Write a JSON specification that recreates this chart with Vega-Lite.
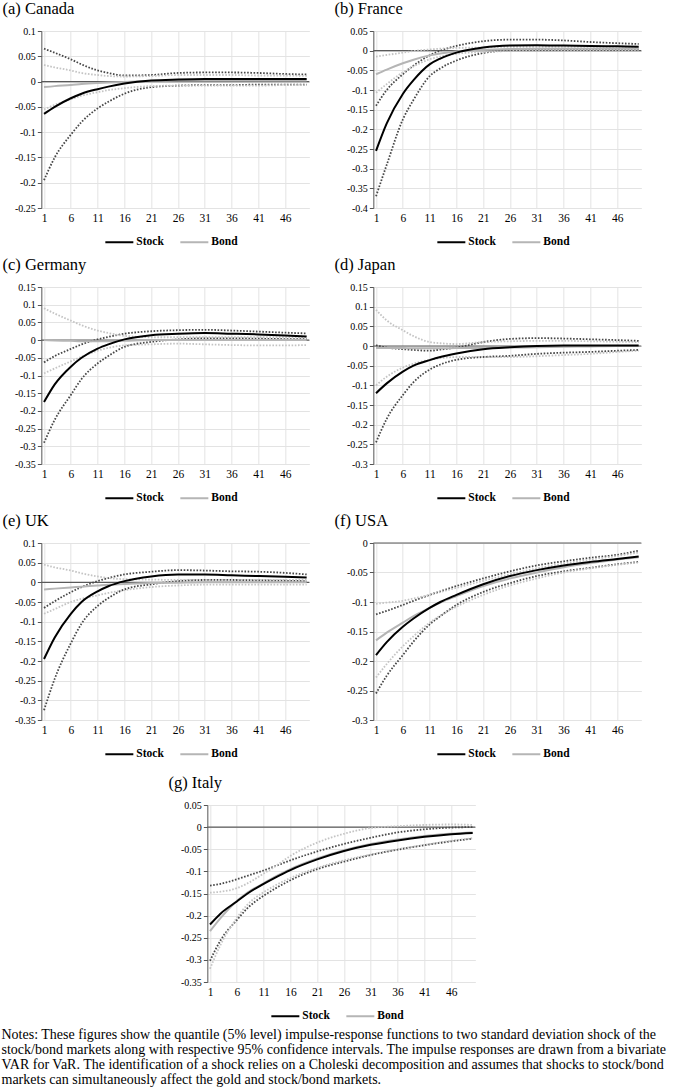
{
  "$schema": "https://vega.github.io/schema/vega-lite/v6.json",
  "padding": {"left": 1, "top": 0, "right": 0, "bottom": 0},
  "background": "white",
  "config": {
    "font": "Liberation Serif",
    "view": {"stroke": null},
    "axis": {"labelFont": "Liberation Serif", "labelColor": "#000000", "gridColor": "#e3e3e3", "gridWidth": 1, "title": null, "labelOverlap": false},
    "axisX": {"domain": false, "ticks": false, "labelFontSize": 11.5, "labelPadding": 4, "grid": true},
    "axisY": {"domainColor": "#555555", "tickColor": "#555555", "tickSize": 4, "labelFontSize": 10, "labelPadding": 2, "grid": true},
    "title": {"font": "Liberation Serif", "fontSize": 16.5, "fontWeight": "normal", "color": "#000000", "anchor": "start", "frame": "bounds", "offset": 9, "dx": -12},
    "legend": {"orient": "none", "legendX": 63, "legendY": 196, "direction": "horizontal", "title": null, "symbolType": "stroke", "symbolSize": 784, "symbolStrokeWidth": 2, "labelFont": "Liberation Serif", "labelFontSize": 11.5, "labelFontWeight": "bold", "labelColor": "#000000", "labelOffset": 2, "columnPadding": 12, "padding": 0}
  },
  "datasets": {
    "irf": [
      {"p":"a","t":1,"Stock":-0.064,"StockLo":-0.195,"StockHi":0.065,"Bond":-0.011,"BondLo":-0.055,"BondHi":0.033},
      {"p":"a","t":3,"Stock":-0.050,"StockLo":-0.150,"StockHi":0.057,"Bond":-0.009,"BondLo":-0.046,"BondHi":0.028},
      {"p":"a","t":6,"Stock":-0.033,"StockLo":-0.105,"StockHi":0.044,"Bond":-0.007,"BondLo":-0.035,"BondHi":0.022},
      {"p":"a","t":8,"Stock":-0.024,"StockLo":-0.080,"StockHi":0.034,"Bond":-0.005,"BondLo":-0.028,"BondHi":0.017},
      {"p":"a","t":11,"Stock":-0.015,"StockLo":-0.053,"StockHi":0.022,"Bond":-0.003,"BondLo":-0.021,"BondHi":0.013},
      {"p":"a","t":13,"Stock":-0.010,"StockLo":-0.040,"StockHi":0.017,"Bond":-0.002,"BondLo":-0.017,"BondHi":0.011},
      {"p":"a","t":16,"Stock":-0.004,"StockLo":-0.024,"StockHi":0.012,"Bond":-0.001,"BondLo":-0.013,"BondHi":0.010},
      {"p":"a","t":21,"Stock":0.002,"StockLo":-0.011,"StockHi":0.013,"Bond":0.001,"BondLo":-0.009,"BondHi":0.011},
      {"p":"a","t":26,"Stock":0.004,"StockLo":-0.008,"StockHi":0.017,"Bond":0.002,"BondLo":-0.008,"BondHi":0.013},
      {"p":"a","t":31,"Stock":0.005,"StockLo":-0.007,"StockHi":0.018,"Bond":0.002,"BondLo":-0.008,"BondHi":0.013},
      {"p":"a","t":36,"Stock":0.005,"StockLo":-0.007,"StockHi":0.018,"Bond":0.002,"BondLo":-0.008,"BondHi":0.013},
      {"p":"a","t":41,"Stock":0.005,"StockLo":-0.006,"StockHi":0.017,"Bond":0.002,"BondLo":-0.008,"BondHi":0.012},
      {"p":"a","t":46,"Stock":0.005,"StockLo":-0.006,"StockHi":0.015,"Bond":0.002,"BondLo":-0.007,"BondHi":0.012},
      {"p":"a","t":50,"Stock":0.005,"StockLo":-0.006,"StockHi":0.014,"Bond":0.002,"BondLo":-0.007,"BondHi":0.011},

      {"p":"b","t":1,"Stock":-0.255,"StockLo":-0.370,"StockHi":-0.140,"Bond":-0.060,"BondLo":-0.107,"BondHi":-0.015},
      {"p":"b","t":3,"Stock":-0.185,"StockLo":-0.290,"StockHi":-0.100,"Bond":-0.048,"BondLo":-0.085,"BondHi":-0.011},
      {"p":"b","t":6,"Stock":-0.110,"StockLo":-0.175,"StockHi":-0.060,"Bond":-0.032,"BondLo":-0.055,"BondHi":-0.005},
      {"p":"b","t":8,"Stock":-0.075,"StockLo":-0.125,"StockHi":-0.038,"Bond":-0.023,"BondLo":-0.040,"BondHi":-0.001},
      {"p":"b","t":11,"Stock":-0.035,"StockLo":-0.065,"StockHi":-0.012,"Bond":-0.012,"BondLo":-0.022,"BondHi":0.003},
      {"p":"b","t":13,"Stock":-0.020,"StockLo":-0.045,"StockHi":0.000,"Bond":-0.007,"BondLo":-0.015,"BondHi":0.005},
      {"p":"b","t":16,"Stock":-0.005,"StockLo":-0.025,"StockHi":0.012,"Bond":-0.002,"BondLo":-0.008,"BondHi":0.007},
      {"p":"b","t":21,"Stock":0.008,"StockLo":-0.006,"StockHi":0.024,"Bond":0.002,"BondLo":-0.003,"BondHi":0.008},
      {"p":"b","t":26,"Stock":0.013,"StockLo":0.001,"StockHi":0.028,"Bond":0.004,"BondLo":-0.001,"BondHi":0.010},
      {"p":"b","t":31,"Stock":0.014,"StockLo":0.003,"StockHi":0.028,"Bond":0.005,"BondLo":0.000,"BondHi":0.010},
      {"p":"b","t":36,"Stock":0.013,"StockLo":0.003,"StockHi":0.026,"Bond":0.005,"BondLo":0.000,"BondHi":0.010},
      {"p":"b","t":41,"Stock":0.012,"StockLo":0.003,"StockHi":0.022,"Bond":0.005,"BondLo":0.000,"BondHi":0.010},
      {"p":"b","t":46,"Stock":0.011,"StockLo":0.003,"StockHi":0.019,"Bond":0.005,"BondLo":0.000,"BondHi":0.010},
      {"p":"b","t":50,"Stock":0.010,"StockLo":0.003,"StockHi":0.017,"Bond":0.005,"BondLo":0.000,"BondHi":0.010},

      {"p":"c","t":1,"Stock":-0.175,"StockLo":-0.290,"StockHi":-0.063,"Bond":0.000,"BondLo":-0.094,"BondHi":0.090},
      {"p":"c","t":3,"Stock":-0.125,"StockLo":-0.225,"StockHi":-0.045,"Bond":-0.001,"BondLo":-0.080,"BondHi":0.075},
      {"p":"c","t":6,"Stock":-0.075,"StockLo":-0.155,"StockHi":-0.025,"Bond":-0.002,"BondLo":-0.060,"BondHi":0.055},
      {"p":"c","t":8,"Stock":-0.050,"StockLo":-0.110,"StockHi":-0.012,"Bond":-0.003,"BondLo":-0.047,"BondHi":0.042},
      {"p":"c","t":11,"Stock":-0.024,"StockLo":-0.066,"StockHi":0.002,"Bond":-0.003,"BondLo":-0.030,"BondHi":0.027},
      {"p":"c","t":13,"Stock":-0.012,"StockLo":-0.045,"StockHi":0.009,"Bond":-0.003,"BondLo":-0.022,"BondHi":0.020},
      {"p":"c","t":16,"Stock":0.002,"StockLo":-0.019,"StockHi":0.018,"Bond":-0.002,"BondLo":-0.015,"BondHi":0.012},
      {"p":"c","t":21,"Stock":0.014,"StockLo":-0.005,"StockHi":0.025,"Bond":0.000,"BondLo":-0.012,"BondHi":0.008},
      {"p":"c","t":26,"Stock":0.018,"StockLo":0.002,"StockHi":0.028,"Bond":0.000,"BondLo":-0.010,"BondHi":0.008},
      {"p":"c","t":31,"Stock":0.020,"StockLo":0.005,"StockHi":0.029,"Bond":0.000,"BondLo":-0.012,"BondHi":0.008},
      {"p":"c","t":36,"Stock":0.018,"StockLo":0.005,"StockHi":0.027,"Bond":0.000,"BondLo":-0.014,"BondHi":0.008},
      {"p":"c","t":41,"Stock":0.016,"StockLo":0.004,"StockHi":0.024,"Bond":0.000,"BondLo":-0.015,"BondHi":0.008},
      {"p":"c","t":46,"Stock":0.013,"StockLo":0.003,"StockHi":0.021,"Bond":0.000,"BondLo":-0.015,"BondHi":0.008},
      {"p":"c","t":50,"Stock":0.010,"StockLo":0.003,"StockHi":0.019,"Bond":0.000,"BondLo":-0.014,"BondHi":0.008},

      {"p":"d","t":1,"Stock":-0.120,"StockLo":-0.245,"StockHi":0.002,"Bond":-0.005,"BondLo":-0.100,"BondHi":0.092},
      {"p":"d","t":3,"Stock":-0.095,"StockLo":-0.185,"StockHi":-0.004,"Bond":-0.005,"BondLo":-0.078,"BondHi":0.065},
      {"p":"d","t":6,"Stock":-0.065,"StockLo":-0.125,"StockHi":-0.008,"Bond":-0.005,"BondLo":-0.055,"BondHi":0.040},
      {"p":"d","t":8,"Stock":-0.050,"StockLo":-0.092,"StockHi":-0.010,"Bond":-0.006,"BondLo":-0.045,"BondHi":0.025},
      {"p":"d","t":11,"Stock":-0.036,"StockLo":-0.060,"StockHi":-0.012,"Bond":-0.006,"BondLo":-0.035,"BondHi":0.010},
      {"p":"d","t":13,"Stock":-0.028,"StockLo":-0.047,"StockHi":-0.009,"Bond":-0.006,"BondLo":-0.031,"BondHi":0.007},
      {"p":"d","t":16,"Stock":-0.019,"StockLo":-0.035,"StockHi":-0.004,"Bond":-0.005,"BondLo":-0.028,"BondHi":0.005},
      {"p":"d","t":21,"Stock":-0.008,"StockLo":-0.028,"StockHi":0.010,"Bond":-0.005,"BondLo":-0.028,"BondHi":0.010},
      {"p":"d","t":26,"Stock":-0.003,"StockLo":-0.025,"StockHi":0.018,"Bond":-0.004,"BondLo":-0.028,"BondHi":0.012},
      {"p":"d","t":31,"Stock":0.000,"StockLo":-0.020,"StockHi":0.020,"Bond":-0.003,"BondLo":-0.026,"BondHi":0.013},
      {"p":"d","t":36,"Stock":0.001,"StockLo":-0.017,"StockHi":0.019,"Bond":-0.002,"BondLo":-0.023,"BondHi":0.013},
      {"p":"d","t":41,"Stock":0.001,"StockLo":-0.015,"StockHi":0.017,"Bond":-0.001,"BondLo":-0.020,"BondHi":0.012},
      {"p":"d","t":46,"Stock":0.001,"StockLo":-0.012,"StockHi":0.015,"Bond":0.000,"BondLo":-0.015,"BondHi":0.011},
      {"p":"d","t":50,"Stock":0.001,"StockLo":-0.010,"StockHi":0.013,"Bond":0.000,"BondLo":-0.012,"BondHi":0.010},

      {"p":"e","t":1,"Stock":-0.195,"StockLo":-0.325,"StockHi":-0.065,"Bond":-0.018,"BondLo":-0.080,"BondHi":0.045},
      {"p":"e","t":3,"Stock":-0.140,"StockLo":-0.245,"StockHi":-0.048,"Bond":-0.016,"BondLo":-0.068,"BondHi":0.038},
      {"p":"e","t":6,"Stock":-0.080,"StockLo":-0.155,"StockHi":-0.025,"Bond":-0.013,"BondLo":-0.050,"BondHi":0.030},
      {"p":"e","t":8,"Stock":-0.050,"StockLo":-0.105,"StockHi":-0.012,"Bond":-0.011,"BondLo":-0.042,"BondHi":0.023},
      {"p":"e","t":11,"Stock":-0.023,"StockLo":-0.060,"StockHi":0.003,"Bond":-0.008,"BondLo":-0.033,"BondHi":0.015},
      {"p":"e","t":13,"Stock":-0.010,"StockLo":-0.040,"StockHi":0.011,"Bond":-0.006,"BondLo":-0.027,"BondHi":0.011},
      {"p":"e","t":16,"Stock":0.003,"StockLo":-0.018,"StockHi":0.020,"Bond":-0.004,"BondLo":-0.020,"BondHi":0.008},
      {"p":"e","t":21,"Stock":0.015,"StockLo":-0.005,"StockHi":0.027,"Bond":-0.002,"BondLo":-0.012,"BondHi":0.007},
      {"p":"e","t":26,"Stock":0.020,"StockLo":0.003,"StockHi":0.031,"Bond":-0.001,"BondLo":-0.008,"BondHi":0.006},
      {"p":"e","t":31,"Stock":0.020,"StockLo":0.006,"StockHi":0.030,"Bond":0.000,"BondLo":-0.006,"BondHi":0.006},
      {"p":"e","t":36,"Stock":0.018,"StockLo":0.006,"StockHi":0.028,"Bond":0.000,"BondLo":-0.006,"BondHi":0.006},
      {"p":"e","t":41,"Stock":0.016,"StockLo":0.005,"StockHi":0.027,"Bond":0.000,"BondLo":-0.006,"BondHi":0.006},
      {"p":"e","t":46,"Stock":0.014,"StockLo":0.004,"StockHi":0.024,"Bond":0.000,"BondLo":-0.006,"BondHi":0.006},
      {"p":"e","t":50,"Stock":0.012,"StockLo":0.003,"StockHi":0.020,"Bond":0.000,"BondLo":-0.006,"BondHi":0.006},

      {"p":"f","t":1,"Stock":-0.190,"StockLo":-0.255,"StockHi":-0.121,"Bond":-0.165,"BondLo":-0.228,"BondHi":-0.103},
      {"p":"f","t":3,"Stock":-0.168,"StockLo":-0.225,"StockHi":-0.115,"Bond":-0.152,"BondLo":-0.205,"BondHi":-0.101},
      {"p":"f","t":6,"Stock":-0.142,"StockLo":-0.190,"StockHi":-0.105,"Bond":-0.135,"BondLo":-0.175,"BondHi":-0.098},
      {"p":"f","t":8,"Stock":-0.128,"StockLo":-0.167,"StockHi":-0.098,"Bond":-0.124,"BondLo":-0.158,"BondHi":-0.094},
      {"p":"f","t":11,"Stock":-0.110,"StockLo":-0.138,"StockHi":-0.088,"Bond":-0.110,"BondLo":-0.135,"BondHi":-0.088},
      {"p":"f","t":13,"Stock":-0.100,"StockLo":-0.124,"StockHi":-0.082,"Bond":-0.101,"BondLo":-0.123,"BondHi":-0.083},
      {"p":"f","t":16,"Stock":-0.088,"StockLo":-0.105,"StockHi":-0.073,"Bond":-0.090,"BondLo":-0.108,"BondHi":-0.076},
      {"p":"f","t":21,"Stock":-0.070,"StockLo":-0.083,"StockHi":-0.060,"Bond":-0.073,"BondLo":-0.088,"BondHi":-0.064},
      {"p":"f","t":26,"Stock":-0.056,"StockLo":-0.068,"StockHi":-0.048,"Bond":-0.060,"BondLo":-0.072,"BondHi":-0.053},
      {"p":"f","t":31,"Stock":-0.046,"StockLo":-0.056,"StockHi":-0.038,"Bond":-0.050,"BondLo":-0.060,"BondHi":-0.043},
      {"p":"f","t":36,"Stock":-0.038,"StockLo":-0.048,"StockHi":-0.031,"Bond":-0.041,"BondLo":-0.050,"BondHi":-0.035},
      {"p":"f","t":41,"Stock":-0.032,"StockLo":-0.042,"StockHi":-0.025,"Bond":-0.034,"BondLo":-0.043,"BondHi":-0.028},
      {"p":"f","t":46,"Stock":-0.027,"StockLo":-0.036,"StockHi":-0.020,"Bond":-0.028,"BondLo":-0.037,"BondHi":-0.022},
      {"p":"f","t":50,"Stock":-0.023,"StockLo":-0.032,"StockHi":-0.013,"Bond":-0.024,"BondLo":-0.033,"BondHi":-0.016},

      {"p":"g","t":1,"Stock":-0.220,"StockLo":-0.302,"StockHi":-0.132,"Bond":-0.235,"BondLo":-0.320,"BondHi":-0.148},
      {"p":"g","t":3,"Stock":-0.195,"StockLo":-0.255,"StockHi":-0.128,"Bond":-0.205,"BondLo":-0.265,"BondHi":-0.146},
      {"p":"g","t":6,"Stock":-0.168,"StockLo":-0.210,"StockHi":-0.118,"Bond":-0.167,"BondLo":-0.205,"BondHi":-0.138},
      {"p":"g","t":8,"Stock":-0.150,"StockLo":-0.183,"StockHi":-0.110,"Bond":-0.148,"BondLo":-0.175,"BondHi":-0.127},
      {"p":"g","t":11,"Stock":-0.128,"StockLo":-0.155,"StockHi":-0.098,"Bond":-0.127,"BondLo":-0.147,"BondHi":-0.105},
      {"p":"g","t":13,"Stock":-0.115,"StockLo":-0.140,"StockHi":-0.089,"Bond":-0.113,"BondLo":-0.133,"BondHi":-0.090},
      {"p":"g","t":16,"Stock":-0.097,"StockLo":-0.120,"StockHi":-0.075,"Bond":-0.095,"BondLo":-0.115,"BondHi":-0.065},
      {"p":"g","t":21,"Stock":-0.073,"StockLo":-0.095,"StockHi":-0.055,"Bond":-0.071,"BondLo":-0.092,"BondHi":-0.035},
      {"p":"g","t":26,"Stock":-0.054,"StockLo":-0.078,"StockHi":-0.038,"Bond":-0.052,"BondLo":-0.075,"BondHi":-0.015},
      {"p":"g","t":31,"Stock":-0.040,"StockLo":-0.063,"StockHi":-0.024,"Bond":-0.038,"BondLo":-0.062,"BondHi":-0.002},
      {"p":"g","t":36,"Stock":-0.030,"StockLo":-0.051,"StockHi":-0.012,"Bond":-0.028,"BondLo":-0.050,"BondHi":0.002},
      {"p":"g","t":41,"Stock":-0.022,"StockLo":-0.041,"StockHi":-0.005,"Bond":-0.020,"BondLo":-0.040,"BondHi":0.005},
      {"p":"g","t":46,"Stock":-0.016,"StockLo":-0.032,"StockHi":-0.001,"Bond":-0.015,"BondLo":-0.031,"BondHi":0.006},
      {"p":"g","t":50,"Stock":-0.013,"StockLo":-0.026,"StockHi":0.000,"Bond":-0.012,"BondLo":-0.025,"BondHi":0.005}
    ]
  },
  "title": {
    "text": [
      "Notes: These figures show the quantile (5% level) impulse-response functions to two standard deviation shock of the",
      "stock/bond markets along with respective 95% confidence intervals. The impulse responses are drawn from a bivariate",
      "VAR for VaR. The identification of a shock relies on a Choleski decomposition and assumes that shocks to stock/bond",
      "markets can simultaneously affect the gold and stock/bond markets."
    ],
    "orient": "bottom", "anchor": "start", "frame": "bounds", "fontSize": 14, "lineHeight": 15, "offset": 6, "dx": -1
  },
  "center": true,
  "spacing": 14,
  "resolve": {"scale": {"color": "independent"}},
  "vconcat": [
    {
      "spacing": 8,
      "resolve": {"scale": {"color": "independent"}},
      "vconcat": [
        {
          "spacing": 23,
          "resolve": {"scale": {"color": "independent"}},
          "hconcat": [
            {
              "width": 268, "height": 177, "title": {"text": "(a) Canada"},
              "layer": [
                {"data": {"values": [{}]}, "mark": {"type": "rule", "color": "#5a5a5a", "strokeWidth": 1.2}, "encoding": {"y": {"datum": 0, "type": "quantitative", "scale": {"domain": [-0.25, 0.1], "nice": false, "zero": false}, "axis": {"values": [-0.25,-0.2,-0.15,-0.1,-0.05,0,0.05,0.1], "labelExpr": "'' + datum.value", "title": null, "labelOverlap": false}}}},
                {"data": {"name": "irf"}, "transform": [{"filter": "datum.p == 'a'"}],
                 "encoding": {
                   "x": {"field": "t", "type": "quantitative", "scale": {"domain": [0.5, 50.5], "nice": false, "zero": false}, "axis": {"values": [1,6,11,16,21,26,31,36,41,46], "title": null, "labelOverlap": false}},
                   "y": {"field": "value", "type": "quantitative", "scale": {"domain": [-0.25, 0.1], "nice": false, "zero": false}, "axis": {"values": [-0.25,-0.2,-0.15,-0.1,-0.05,0,0.05,0.1], "labelExpr": "'' + datum.value", "title": null, "labelOverlap": false}}},
                 "layer": [
                   {"transform": [{"fold": ["StockLo","StockHi"]}], "mark": {"type": "line", "color": "#474747", "strokeDash": [1.6,1.6], "strokeWidth": 1.8, "interpolate": "monotone"}, "encoding": {"detail": {"field": "key"}}},
                   {"transform": [{"fold": ["BondLo","BondHi"]}], "mark": {"type": "line", "color": "#c4c4c4", "strokeDash": [1.6,1.6], "strokeWidth": 1.8, "interpolate": "monotone"}, "encoding": {"detail": {"field": "key"}}},
                   {"transform": [{"fold": ["Bond","Stock"]}], "mark": {"type": "line", "strokeWidth": 2, "interpolate": "monotone"}, "encoding": {"color": {"field": "key", "type": "nominal", "scale": {"domain": ["Stock","Bond"], "range": ["#000000","#b5b5b5"]}}}}
                 ]}
              ]
            },
            {
              "width": 268, "height": 177, "title": {"text": "(b) France"},
              "layer": [
                {"data": {"values": [{}]}, "mark": {"type": "rule", "color": "#5a5a5a", "strokeWidth": 1.2}, "encoding": {"y": {"datum": 0, "type": "quantitative", "scale": {"domain": [-0.4, 0.05], "nice": false, "zero": false}, "axis": {"values": [-0.4,-0.35,-0.3,-0.25,-0.2,-0.15,-0.1,-0.05,0,0.05], "labelExpr": "'' + datum.value", "title": null, "labelOverlap": false}}}},
                {"data": {"name": "irf"}, "transform": [{"filter": "datum.p == 'b'"}],
                 "encoding": {
                   "x": {"field": "t", "type": "quantitative", "scale": {"domain": [0.5, 50.5], "nice": false, "zero": false}, "axis": {"values": [1,6,11,16,21,26,31,36,41,46], "title": null, "labelOverlap": false}},
                   "y": {"field": "value", "type": "quantitative", "scale": {"domain": [-0.4, 0.05], "nice": false, "zero": false}, "axis": {"values": [-0.4,-0.35,-0.3,-0.25,-0.2,-0.15,-0.1,-0.05,0,0.05], "labelExpr": "'' + datum.value", "title": null, "labelOverlap": false}}},
                 "layer": [
                   {"transform": [{"fold": ["StockLo","StockHi"]}], "mark": {"type": "line", "color": "#474747", "strokeDash": [1.6,1.6], "strokeWidth": 1.8, "interpolate": "monotone"}, "encoding": {"detail": {"field": "key"}}},
                   {"transform": [{"fold": ["BondLo","BondHi"]}], "mark": {"type": "line", "color": "#c4c4c4", "strokeDash": [1.6,1.6], "strokeWidth": 1.8, "interpolate": "monotone"}, "encoding": {"detail": {"field": "key"}}},
                   {"transform": [{"fold": ["Bond","Stock"]}], "mark": {"type": "line", "strokeWidth": 2, "interpolate": "monotone"}, "encoding": {"color": {"field": "key", "type": "nominal", "scale": {"domain": ["Stock","Bond"], "range": ["#000000","#b5b5b5"]}}}}
                 ]}
              ]
            }
          ]
        },
        {
          "spacing": 23,
          "resolve": {"scale": {"color": "independent"}},
          "hconcat": [
            {
              "width": 268, "height": 177, "title": {"text": "(c) Germany"},
              "layer": [
                {"data": {"values": [{}]}, "mark": {"type": "rule", "color": "#5a5a5a", "strokeWidth": 1.2}, "encoding": {"y": {"datum": 0, "type": "quantitative", "scale": {"domain": [-0.35, 0.15], "nice": false, "zero": false}, "axis": {"values": [-0.35,-0.3,-0.25,-0.2,-0.15,-0.1,-0.05,0,0.05,0.1,0.15], "labelExpr": "'' + datum.value", "title": null, "labelOverlap": false}}}},
                {"data": {"name": "irf"}, "transform": [{"filter": "datum.p == 'c'"}],
                 "encoding": {
                   "x": {"field": "t", "type": "quantitative", "scale": {"domain": [0.5, 50.5], "nice": false, "zero": false}, "axis": {"values": [1,6,11,16,21,26,31,36,41,46], "title": null, "labelOverlap": false}},
                   "y": {"field": "value", "type": "quantitative", "scale": {"domain": [-0.35, 0.15], "nice": false, "zero": false}, "axis": {"values": [-0.35,-0.3,-0.25,-0.2,-0.15,-0.1,-0.05,0,0.05,0.1,0.15], "labelExpr": "'' + datum.value", "title": null, "labelOverlap": false}}},
                 "layer": [
                   {"transform": [{"fold": ["StockLo","StockHi"]}], "mark": {"type": "line", "color": "#474747", "strokeDash": [1.6,1.6], "strokeWidth": 1.8, "interpolate": "monotone"}, "encoding": {"detail": {"field": "key"}}},
                   {"transform": [{"fold": ["BondLo","BondHi"]}], "mark": {"type": "line", "color": "#c4c4c4", "strokeDash": [1.6,1.6], "strokeWidth": 1.8, "interpolate": "monotone"}, "encoding": {"detail": {"field": "key"}}},
                   {"transform": [{"fold": ["Bond","Stock"]}], "mark": {"type": "line", "strokeWidth": 2, "interpolate": "monotone"}, "encoding": {"color": {"field": "key", "type": "nominal", "scale": {"domain": ["Stock","Bond"], "range": ["#000000","#b5b5b5"]}}}}
                 ]}
              ]
            },
            {
              "width": 268, "height": 177, "title": {"text": "(d) Japan"},
              "layer": [
                {"data": {"values": [{}]}, "mark": {"type": "rule", "color": "#5a5a5a", "strokeWidth": 1.2}, "encoding": {"y": {"datum": 0, "type": "quantitative", "scale": {"domain": [-0.3, 0.15], "nice": false, "zero": false}, "axis": {"values": [-0.3,-0.25,-0.2,-0.15,-0.1,-0.05,0,0.05,0.1,0.15], "labelExpr": "'' + datum.value", "title": null, "labelOverlap": false}}}},
                {"data": {"name": "irf"}, "transform": [{"filter": "datum.p == 'd'"}],
                 "encoding": {
                   "x": {"field": "t", "type": "quantitative", "scale": {"domain": [0.5, 50.5], "nice": false, "zero": false}, "axis": {"values": [1,6,11,16,21,26,31,36,41,46], "title": null, "labelOverlap": false}},
                   "y": {"field": "value", "type": "quantitative", "scale": {"domain": [-0.3, 0.15], "nice": false, "zero": false}, "axis": {"values": [-0.3,-0.25,-0.2,-0.15,-0.1,-0.05,0,0.05,0.1,0.15], "labelExpr": "'' + datum.value", "title": null, "labelOverlap": false}}},
                 "layer": [
                   {"transform": [{"fold": ["StockLo","StockHi"]}], "mark": {"type": "line", "color": "#474747", "strokeDash": [1.6,1.6], "strokeWidth": 1.8, "interpolate": "monotone"}, "encoding": {"detail": {"field": "key"}}},
                   {"transform": [{"fold": ["BondLo","BondHi"]}], "mark": {"type": "line", "color": "#c4c4c4", "strokeDash": [1.6,1.6], "strokeWidth": 1.8, "interpolate": "monotone"}, "encoding": {"detail": {"field": "key"}}},
                   {"transform": [{"fold": ["Bond","Stock"]}], "mark": {"type": "line", "strokeWidth": 2, "interpolate": "monotone"}, "encoding": {"color": {"field": "key", "type": "nominal", "scale": {"domain": ["Stock","Bond"], "range": ["#000000","#b5b5b5"]}}}}
                 ]}
              ]
            }
          ]
        },
        {
          "spacing": 23,
          "resolve": {"scale": {"color": "independent"}},
          "hconcat": [
            {
              "width": 268, "height": 177, "title": {"text": "(e) UK"},
              "layer": [
                {"data": {"values": [{}]}, "mark": {"type": "rule", "color": "#5a5a5a", "strokeWidth": 1.2}, "encoding": {"y": {"datum": 0, "type": "quantitative", "scale": {"domain": [-0.35, 0.1], "nice": false, "zero": false}, "axis": {"values": [-0.35,-0.3,-0.25,-0.2,-0.15,-0.1,-0.05,0,0.05,0.1], "labelExpr": "'' + datum.value", "title": null, "labelOverlap": false}}}},
                {"data": {"name": "irf"}, "transform": [{"filter": "datum.p == 'e'"}],
                 "encoding": {
                   "x": {"field": "t", "type": "quantitative", "scale": {"domain": [0.5, 50.5], "nice": false, "zero": false}, "axis": {"values": [1,6,11,16,21,26,31,36,41,46], "title": null, "labelOverlap": false}},
                   "y": {"field": "value", "type": "quantitative", "scale": {"domain": [-0.35, 0.1], "nice": false, "zero": false}, "axis": {"values": [-0.35,-0.3,-0.25,-0.2,-0.15,-0.1,-0.05,0,0.05,0.1], "labelExpr": "'' + datum.value", "title": null, "labelOverlap": false}}},
                 "layer": [
                   {"transform": [{"fold": ["StockLo","StockHi"]}], "mark": {"type": "line", "color": "#474747", "strokeDash": [1.6,1.6], "strokeWidth": 1.8, "interpolate": "monotone"}, "encoding": {"detail": {"field": "key"}}},
                   {"transform": [{"fold": ["BondLo","BondHi"]}], "mark": {"type": "line", "color": "#c4c4c4", "strokeDash": [1.6,1.6], "strokeWidth": 1.8, "interpolate": "monotone"}, "encoding": {"detail": {"field": "key"}}},
                   {"transform": [{"fold": ["Bond","Stock"]}], "mark": {"type": "line", "strokeWidth": 2, "interpolate": "monotone"}, "encoding": {"color": {"field": "key", "type": "nominal", "scale": {"domain": ["Stock","Bond"], "range": ["#000000","#b5b5b5"]}}}}
                 ]}
              ]
            },
            {
              "width": 268, "height": 177, "title": {"text": "(f) USA"},
              "layer": [
                {"data": {"values": [{}]}, "mark": {"type": "rule", "color": "#5a5a5a", "strokeWidth": 1.2}, "encoding": {"y": {"datum": 0, "type": "quantitative", "scale": {"domain": [-0.3, 0], "nice": false, "zero": false}, "axis": {"values": [-0.3,-0.25,-0.2,-0.15,-0.1,-0.05,0], "labelExpr": "'' + datum.value", "title": null, "labelOverlap": false}}}},
                {"data": {"name": "irf"}, "transform": [{"filter": "datum.p == 'f'"}],
                 "encoding": {
                   "x": {"field": "t", "type": "quantitative", "scale": {"domain": [0.5, 50.5], "nice": false, "zero": false}, "axis": {"values": [1,6,11,16,21,26,31,36,41,46], "title": null, "labelOverlap": false}},
                   "y": {"field": "value", "type": "quantitative", "scale": {"domain": [-0.3, 0], "nice": false, "zero": false}, "axis": {"values": [-0.3,-0.25,-0.2,-0.15,-0.1,-0.05,0], "labelExpr": "'' + datum.value", "title": null, "labelOverlap": false}}},
                 "layer": [
                   {"transform": [{"fold": ["StockLo","StockHi"]}], "mark": {"type": "line", "color": "#474747", "strokeDash": [1.6,1.6], "strokeWidth": 1.8, "interpolate": "monotone"}, "encoding": {"detail": {"field": "key"}}},
                   {"transform": [{"fold": ["BondLo","BondHi"]}], "mark": {"type": "line", "color": "#c4c4c4", "strokeDash": [1.6,1.6], "strokeWidth": 1.8, "interpolate": "monotone"}, "encoding": {"detail": {"field": "key"}}},
                   {"transform": [{"fold": ["Bond","Stock"]}], "mark": {"type": "line", "strokeWidth": 2, "interpolate": "monotone"}, "encoding": {"color": {"field": "key", "type": "nominal", "scale": {"domain": ["Stock","Bond"], "range": ["#000000","#b5b5b5"]}}}}
                 ]}
              ]
            }
          ]
        }
      ]
    },
    {
      "width": 268, "height": 177, "title": {"text": "(g) Italy"},
      "layer": [
        {"data": {"values": [{}]}, "mark": {"type": "rule", "color": "#5a5a5a", "strokeWidth": 1.2}, "encoding": {"y": {"datum": 0, "type": "quantitative", "scale": {"domain": [-0.35, 0.05], "nice": false, "zero": false}, "axis": {"values": [-0.35,-0.3,-0.25,-0.2,-0.15,-0.1,-0.05,0,0.05], "labelExpr": "'' + datum.value", "title": null, "labelOverlap": false}}}},
        {"data": {"name": "irf"}, "transform": [{"filter": "datum.p == 'g'"}],
         "encoding": {
           "x": {"field": "t", "type": "quantitative", "scale": {"domain": [0.5, 50.5], "nice": false, "zero": false}, "axis": {"values": [1,6,11,16,21,26,31,36,41,46], "title": null, "labelOverlap": false}},
           "y": {"field": "value", "type": "quantitative", "scale": {"domain": [-0.35, 0.05], "nice": false, "zero": false}, "axis": {"values": [-0.35,-0.3,-0.25,-0.2,-0.15,-0.1,-0.05,0,0.05], "labelExpr": "'' + datum.value", "title": null, "labelOverlap": false}}},
         "layer": [
           {"transform": [{"fold": ["StockLo","StockHi"]}], "mark": {"type": "line", "color": "#474747", "strokeDash": [1.6,1.6], "strokeWidth": 1.8, "interpolate": "monotone"}, "encoding": {"detail": {"field": "key"}}},
           {"transform": [{"fold": ["BondLo","BondHi"]}], "mark": {"type": "line", "color": "#c4c4c4", "strokeDash": [1.6,1.6], "strokeWidth": 1.8, "interpolate": "monotone"}, "encoding": {"detail": {"field": "key"}}},
           {"transform": [{"fold": ["Bond","Stock"]}], "mark": {"type": "line", "strokeWidth": 2, "interpolate": "monotone"}, "encoding": {"color": {"field": "key", "type": "nominal", "scale": {"domain": ["Stock","Bond"], "range": ["#000000","#b5b5b5"]}}}}
         ]}
      ]
    }
  ]
}
